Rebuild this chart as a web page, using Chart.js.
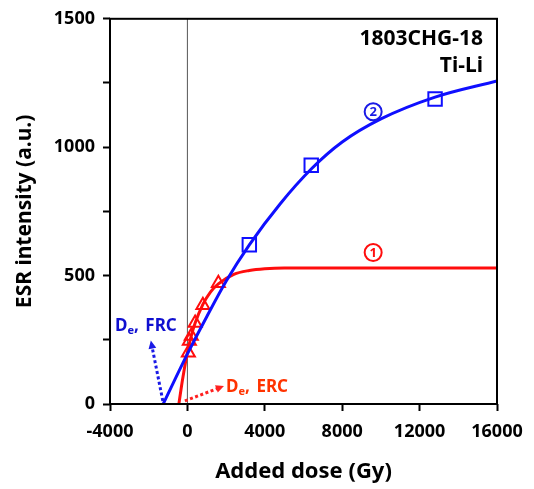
<!DOCTYPE html>
<html>
<head>
<meta charset="utf-8">
<script src="https://cdn.jsdelivr.net/npm/chart.js@4.4.0/dist/chart.umd.min.js"></script>
<style>
  html, body { margin: 0; padding: 0; background: #fff; }
  #chart { display: block; }
</style>
</head>
<body>
<canvas id="chart" width="534" height="489"></canvas>
<script>
// measured points (ERC = triangles, FRC = squares)
const ercDose = [50, 100, 200, 400, 800, 1600];
const ercIntensity = [200, 245, 265, 315, 385, 470];
const frcDose = [3200, 6400, 12800];
const frcIntensity = [620, 930, 1188];

// fitted curves
const ercCurveDose = [-440, -300, -200, -100, 0, 200, 400, 800, 1200, 1600, 2400, 3200, 4000, 5000, 6000, 16000];
const ercCurveIntensity = [0, 72, 118, 162, 200, 265, 315, 388, 437, 468, 505, 520, 527, 530, 530, 530];
const frcCurveDose = [-1250, 0, 1000, 2000, 3200, 4800, 6400, 8000, 10000, 12800, 16000];
const frcCurveIntensity = [0, 195, 340, 478, 620, 780, 915, 1020, 1110, 1195, 1258];

// axis ticks
const xTicks = [-4000, 0, 4000, 8000, 12000, 16000];
const yTicks = [0, 500, 1000, 1500];

const BLUE = "#0f0fff";
const RED = "#ff0d0d";
const FONT = "'Noto Sans', 'Open Sans', sans-serif";

function toPoints(xs, ys) {
  return xs.map((x, i) => ({ x: x, y: ys[i] }));
}

// dotted arrows and labels, in data units
const frcArrow = { from: [-1270, 12], to: [-1890, 247] };
const ercArrow = { from: [-130, 12], to: [1890, 70] };
const frcLabelPos = [-3740, 305];
const ercLabelPos = [2000, 66];
const circle1Pos = [9600, 590];
const circle2Pos = [9600, 1138];

function drawArrow(ctx, x1, y1, x2, y2, color) {
  const ang = Math.atan2(y2 - y1, x2 - x1);
  const head = 9;
  ctx.save();
  ctx.strokeStyle = color;
  ctx.fillStyle = color;
  ctx.lineWidth = 3;
  ctx.setLineDash([3, 2.5]);
  ctx.beginPath();
  ctx.moveTo(x1, y1);
  ctx.lineTo(x2 - Math.cos(ang) * head * 0.8, y2 - Math.sin(ang) * head * 0.8);
  ctx.stroke();
  ctx.setLineDash([]);
  ctx.beginPath();
  ctx.moveTo(x2, y2);
  ctx.lineTo(x2 - head * Math.cos(ang - 0.45), y2 - head * Math.sin(ang - 0.45));
  ctx.lineTo(x2 - head * Math.cos(ang + 0.45), y2 - head * Math.sin(ang + 0.45));
  ctx.closePath();
  ctx.fill();
  ctx.restore();
}

function drawDeLabel(ctx, x, y, suffix, color) {
  ctx.save();
  ctx.fillStyle = color;
  ctx.textBaseline = "middle";
  ctx.textAlign = "left";
  ctx.font = "bold 17px " + FONT;
  ctx.fillText("D", x, y);
  let cx = x + ctx.measureText("D").width;
  ctx.font = "bold 11px " + FONT;
  ctx.fillText("e", cx, y + 5);
  cx += ctx.measureText("e").width;
  ctx.font = "bold 17px " + FONT;
  ctx.fillText(",", cx, y);
  cx += ctx.measureText(", ").width + 2;
  ctx.fillText(suffix, cx, y);
  ctx.restore();
}

function drawCircled(ctx, x, y, digit, color) {
  ctx.save();
  ctx.strokeStyle = color;
  ctx.fillStyle = color;
  ctx.lineWidth = 2;
  ctx.beginPath();
  ctx.arc(x, y, 8.5, 0, Math.PI * 2);
  ctx.stroke();
  ctx.textAlign = "center";
  ctx.textBaseline = "middle";
  ctx.font = "bold 13px " + FONT;
  ctx.fillText(digit, x, y + 0.5);
  ctx.restore();
}

const framePlugin = {
  id: "frame",
  beforeDatasetsDraw(chart) {
    const { ctx, chartArea, scales } = chart;
    const x0 = scales.x.getPixelForValue(0);
    ctx.save();
    ctx.strokeStyle = "#555";
    ctx.lineWidth = 1;
    ctx.beginPath();
    ctx.moveTo(x0, chartArea.top);
    ctx.lineTo(x0, chartArea.bottom);
    ctx.stroke();
    ctx.restore();
  },
  afterDatasetsDraw(chart) {
    const { ctx, chartArea, scales } = chart;
    const px = (p) => [scales.x.getPixelForValue(p[0]), scales.y.getPixelForValue(p[1])];

    // box around plot
    ctx.save();
    ctx.strokeStyle = "#000";
    ctx.lineWidth = 2;
    ctx.strokeRect(chartArea.left, chartArea.top, chartArea.right - chartArea.left, chartArea.bottom - chartArea.top);
    ctx.restore();

    // arrows
    const fa = px(frcArrow.from), fb = px(frcArrow.to);
    drawArrow(ctx, fa[0], fa[1], fb[0], fb[1], "#1a1ae6");
    const ea = px(ercArrow.from), eb = px(ercArrow.to);
    drawArrow(ctx, ea[0], ea[1], eb[0], eb[1], "#ff2020");

    const fl = px(frcLabelPos);
    drawDeLabel(ctx, fl[0], fl[1], "FRC", "#1010d0");
    const el = px(ercLabelPos);
    drawDeLabel(ctx, el[0], el[1], "ERC", "#ff3300");

    // circled curve numbers
    const c1 = px(circle1Pos);
    drawCircled(ctx, c1[0], c1[1], "1", RED);
    const c2 = px(circle2Pos);
    drawCircled(ctx, c2[0], c2[1], "2", "#1a1ae6");

    // sample name
    ctx.save();
    ctx.fillStyle = "#000";
    ctx.textAlign = "right";
    ctx.textBaseline = "middle";
    ctx.font = "bold 21px " + FONT;
    ctx.fillText("1803CHG-18", chartArea.right - 14, chartArea.top + 20);
    ctx.fillText("Ti-Li", chartArea.right - 14, chartArea.top + 47);
    ctx.restore();
  },
};

function renderEsrChart() {
  const ctx = document.getElementById("chart").getContext("2d");
  new Chart(ctx, {
    type: "scatter",
    data: {
      datasets: [
        {
          label: "FRC squares",
          data: toPoints(frcDose, frcIntensity),
          pointStyle: "rect",
          pointRadius: 9.5,
          pointBorderWidth: 2,
          pointBorderColor: BLUE,
          pointBackgroundColor: "rgba(0,0,0,0)",
          showLine: false,
          order: 0,
        },
        {
          label: "FRC fit",
          data: toPoints(frcCurveDose, frcCurveIntensity),
          showLine: true,
          borderColor: BLUE,
          borderWidth: 3,
          pointRadius: 0,
          cubicInterpolationMode: "monotone",
          order: 1,
        },
        {
          label: "ERC triangles",
          data: toPoints(ercDose, ercIntensity),
          pointStyle: "triangle",
          pointRadius: 7.5,
          pointBorderWidth: 2,
          pointBorderColor: RED,
          pointBackgroundColor: "rgba(0,0,0,0)",
          showLine: false,
          order: 2,
        },
        {
          label: "ERC fit",
          data: toPoints(ercCurveDose, ercCurveIntensity),
          showLine: true,
          borderColor: RED,
          borderWidth: 3,
          pointRadius: 0,
          cubicInterpolationMode: "monotone",
          order: 3,
        },
      ],
    },
    options: {
      responsive: false,
      animation: false,
      layout: { padding: { top: 15, right: 37, left: 0, bottom: 0 } },
      plugins: { legend: { display: false }, tooltip: { enabled: false } },
      scales: {
        x: {
          type: "linear",
          min: -4000,
          max: 16000,
          afterFit: (scale) => { scale.height = 85; },
          ticks: {
            stepSize: 2000,
            color: "#000",
            padding: 10,
            maxRotation: 0,
            font: { family: FONT, size: 18, weight: "bold" },
            callback: (v) => (xTicks.includes(v) ? String(v) : ""),
          },
          grid: { drawOnChartArea: false, drawTicks: true, tickLength: 7, tickWidth: 2, tickColor: "#000" },
          border: { display: false },
          title: {
            display: true,
            text: "Added dose (Gy)",
            color: "#000",
            padding: { top: 0, bottom: 4 },
            font: { family: FONT, size: 22, weight: "bold" },
          },
        },
        y: {
          min: 0,
          max: 1500,
          afterFit: (scale) => { scale.width = 110; },
          ticks: {
            stepSize: 250,
            color: "#000",
            padding: 8,
            font: { family: FONT, size: 18, weight: "bold" },
            callback: (v) => (yTicks.includes(v) ? String(v) : ""),
          },
          grid: { drawOnChartArea: false, drawTicks: true, tickLength: 7, tickWidth: 2, tickColor: "#000" },
          border: { display: false },
          title: {
            display: true,
            text: "ESR intensity (a.u.)",
            color: "#000",
            padding: { top: 12, bottom: 0 },
            font: { family: FONT, size: 21, weight: "bold" },
          },
        },
      },
    },
    plugins: [framePlugin],
  });
}

document.addEventListener("DOMContentLoaded", () => {
  renderEsrChart();
});
</script>
</body>
</html>
